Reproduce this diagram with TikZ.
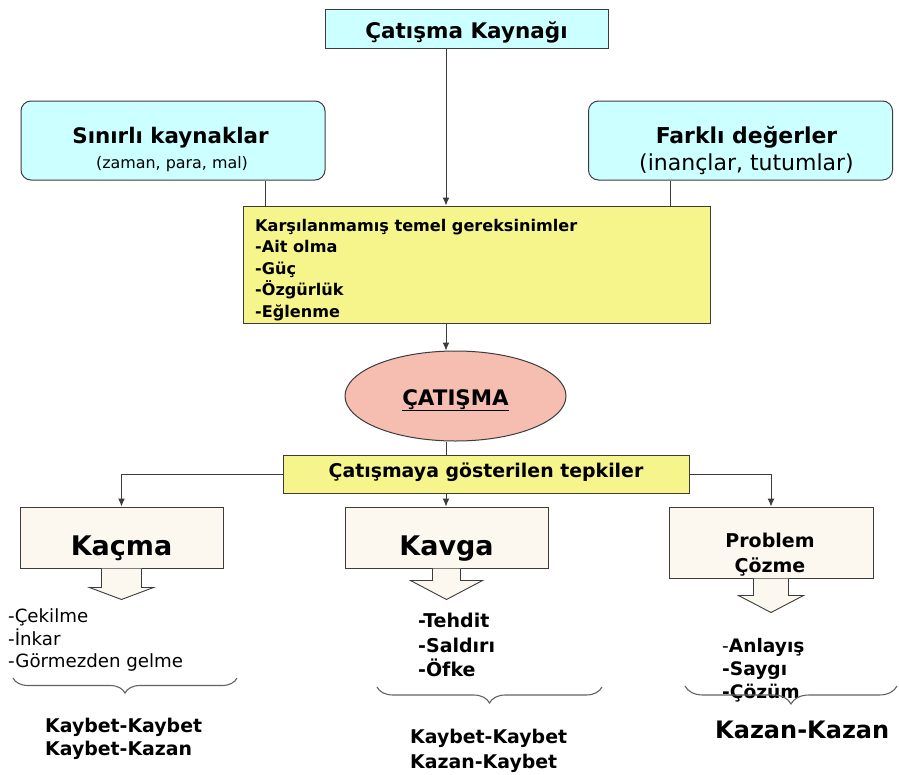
\documentclass[tikz,border=0pt]{standalone}
\usepackage{fontspec}
\setmainfont{DejaVu Sans}
\usepackage{tikz}
\usetikzlibrary{shapes.geometric,decorations.pathreplacing,arrows.meta}

\definecolor{acikmavi}{RGB}{204,255,255}
\definecolor{sari}{RGB}{246,245,140}
\definecolor{somon}{RGB}{245,190,176}
\definecolor{krem}{RGB}{252,248,240}
\definecolor{cizgi}{RGB}{60,60,60}

\begin{document}
\begin{tikzpicture}[x=1pt,y=-1pt]
\tikzstyle{every node}=[inner sep=0pt, font=\bfseries]
\tikzstyle{kutu}=[draw=cizgi, line width=1pt, rectangle]
\tikzstyle{yuvarlak}=[kutu, fill=acikmavi, rounded corners=10pt, minimum width=304, minimum height=79]
\tikzstyle{tepkikutu}=[kutu, fill=krem, minimum width=203, minimum height=61, text height=36pt, text depth=1pt, font=\bfseries\fontsize{27}{30}\selectfont]
\tikzstyle{satir}=[anchor=base west]
\tikzstyle{ok}=[draw=cizgi, line width=1pt, -{Latex[length=8pt,width=7pt]}]
\tikzstyle{hat}=[draw=cizgi, line width=1pt]
\tikzstyle{blokok}=[draw=cizgi, fill=krem, line width=0.9pt]
\tikzstyle{kume}=[draw=cizgi!80, line width=1.1pt, decorate, decoration={brace, mirror}]

\fill[white] (0,0) rectangle (899,774);
\useasboundingbox (0,0) rectangle (899,774);

% ust kisim
\node[kutu, fill=acikmavi, minimum width=283, minimum height=39, text height=20pt, text depth=1pt, font=\bfseries\fontsize{21.5}{24}\selectfont] (kaynak) at (466.5,28.5) {Çatışma Kaynağı};
\node[yuvarlak] (sinirli) at (173,140.5) {};
\node[yuvarlak] (farkli) at (740.5,140.5) {};
\node[anchor=base, font=\bfseries\fontsize{21.4}{24}\selectfont] (sinirlibas) at (170.5,143) {Sınırlı kaynaklar};
\node[anchor=base, font=\mdseries\fontsize{15.9}{18}\selectfont] (sinirlialt) at (172,168) {(zaman, para, mal)};
\node[anchor=base, font=\bfseries\fontsize{21.9}{24}\selectfont] (farklibas) at (746.5,143) {Farklı değerler};
\node[anchor=base, font=\mdseries\fontsize{22}{24}\selectfont] (farklialt) at (746.5,170) {(inançlar, tutumlar)};

% gereksinimler
\node[kutu, fill=sari, minimum width=467, minimum height=117] (gerek) at (476.5,264.5) {};
\tikzstyle{gereksatir}=[satir, font=\bfseries\fontsize{16.1}{20}\selectfont]
\node[gereksatir] (g1) at (255,231) {Karşılanmamış temel gereksinimler};
\node[gereksatir] (g2) at (255,252.5) {-Ait olma};
\node[gereksatir] (g3) at (255,274) {-Güç};
\node[gereksatir] (g4) at (255,295.5) {-Özgürlük};
\node[gereksatir] (g5) at (255,317) {-Eğlenme};

% catisma
\node[ellipse, draw=cizgi, line width=1pt, fill=somon, minimum width=221, minimum height=90, text height=20pt, text depth=2pt, font=\bfseries\fontsize{21.4}{24}\selectfont] (catisma) at (455.5,396) {\underline{ÇATIŞMA}};
\node[kutu, fill=sari, minimum width=406, minimum height=38, text height=11pt, text depth=5pt, font=\bfseries\fontsize{18.9}{22}\selectfont] (tepki) at (486,474) {Çatışmaya gösterilen tepkiler};

% tepkiler
\node[tepkikutu] (kacma) at (121.5,537.5) {Kaçma};
\node[tepkikutu] (kavga) at (446.5,537.5) {Kavga};
\node[kutu, fill=krem, minimum width=204, minimum height=71] (cozme) at (771,542.5) {};
\node[anchor=base, font=\bfseries\fontsize{19}{22}\selectfont] (cozme1) at (770,547) {Problem};
\node[anchor=base, font=\bfseries\fontsize{19}{22}\selectfont] (cozme2) at (770,572) {Çözme};

% baglantilar
\coordinate (ox) at (446,0);
\coordinate (sx) at (265,0);
\coordinate (fx) at (670,0);
\draw[ok] (kaynak.south -| ox) -- (gerek.north -| ox);
\draw[hat] (sinirli.south -| sx) -- (gerek.north -| sx);
\draw[hat] (farkli.south -| fx) -- (gerek.north -| fx);
\draw[ok] (gerek.south -| ox) -- (catisma.north -| ox);
\draw[hat] (catisma.south -| ox) -- (tepki.north -| ox);
\draw[ok] (tepki.west) -| (kacma.north);
\draw[ok] (tepki.south -| ox) -- (kavga.north -| ox);
\draw[ok] (tepki.east) -| (cozme.north);

% blok oklar
\draw[blokok] (kacma.south) ++(-20,0) -- ++(0,19) -- ++(-12,0) -- ++(32,12) -- ++(32,-12) -- ++(-12,0) -- ++(0,-19);
\draw[blokok] (kavga.south) ++(-14,0) -- ++(0,12) -- ++(-22,0) -- ++(36,19) -- ++(36,-19) -- ++(-22,0) -- ++(0,-12);
\draw[blokok] (cozme.south) ++(-17.5,0) -- ++(0,17) -- ++(-15,0) -- ++(32.5,17) -- ++(32.5,-17) -- ++(-15,0) -- ++(0,-17);

% kacma listesi
\tikzstyle{incesatir}=[satir, font=\mdseries\fontsize{18.2}{22}\selectfont]
\node[incesatir] (k1) at (8,622) {-Çekilme};
\node[incesatir] (k2) at (8,645) {-İnkar};
\node[incesatir] (k3) at (8,667) {-Görmezden gelme};
\draw[kume, decoration={amplitude=15pt}] (13,678) -- (237,678);
\tikzstyle{sonuc}=[satir, font=\bfseries\fontsize{18.9}{22}\selectfont]
\node[sonuc] (s1) at (45,732) {Kaybet-Kaybet};
\node[sonuc] (s2) at (45,755) {Kaybet-Kazan};

% kavga listesi
\tikzstyle{kalinsatir}=[satir, font=\bfseries\fontsize{19}{22}\selectfont]
\node[kalinsatir] (v1) at (418,627) {-Tehdit};
\node[kalinsatir] (v2) at (418,652) {-Saldırı};
\node[kalinsatir] (v3) at (418,676) {-Öfke};
\draw[kume, decoration={amplitude=16pt}] (377,687) -- (602,687);
\node[sonuc] (s3) at (410,743) {Kaybet-Kaybet};
\node[sonuc] (s4) at (410,768) {Kazan-Kaybet};

% problem cozme listesi
\tikzstyle{cozumsatir}=[satir, font=\bfseries\fontsize{18.6}{22}\selectfont]
\node[cozumsatir] (p1) at (722,652) {\mdseries-\bfseries Anlayış};
\node[cozumsatir] (p2) at (722,675) {-Saygı};
\node[cozumsatir] (p3) at (722,698) {-Çözüm};
\draw[kume, decoration={amplitude=18pt}] (685,686) -- (897,686);
\node[satir, font=\bfseries\fontsize{24}{28}\selectfont] (s5) at (715,738) {Kazan-Kazan};
\end{tikzpicture}
\end{document}
